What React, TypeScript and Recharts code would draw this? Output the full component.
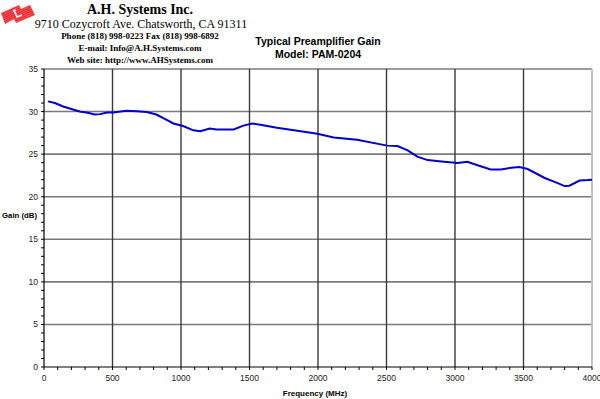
import React from "react";
import { LineChart, Line, XAxis, YAxis, ReferenceLine } from "recharts";

// Measured preamplifier gain across frequency
const freqMHz = [
  30, 80, 140, 200, 260, 320, 370, 410, 460, 505, 600, 680, 750, 820, 885, 945,
  1015, 1090, 1140, 1210, 1260, 1385, 1455, 1520, 1600, 1700, 1850, 1995, 2115,
  2285, 2505, 2580, 2655, 2725, 2800, 2920, 3020, 3090, 3165, 3260, 3335, 3410,
  3470, 3530, 3655, 3750, 3800, 3835, 3910, 3970, 4000,
];
const gainDb = [
  31.2, 31.0, 30.6, 30.3, 30.0, 29.85, 29.65, 29.7, 29.9, 29.9, 30.1, 30.05,
  29.95, 29.65, 29.1, 28.6, 28.3, 27.8, 27.7, 28.0, 27.9, 27.9, 28.35, 28.6,
  28.4, 28.1, 27.75, 27.4, 26.95, 26.7, 26.0, 25.95, 25.45, 24.7, 24.3, 24.1,
  23.95, 24.1, 23.7, 23.2, 23.2, 23.4, 23.5, 23.25, 22.2, 21.6, 21.25, 21.3,
  21.9, 21.95, 22.0,
];

const xMajorTicks = [0, 500, 1000, 1500, 2000, 2500, 3000, 3500, 4000];
const xMinorTicks = Array.from({ length: 41 }, (_, i) => i * 100);
const yMajorTicks = [0, 5, 10, 15, 20, 25, 30, 35];
const yMinorTicks = Array.from({ length: 36 }, (_, i) => i);

const titleLines = ["Typical Preamplifier Gain", "Model: PAM-0204"];
const companyName = "A.H. Systems Inc.";
const companyAddress = "9710 Cozycroft Ave. Chatsworth, CA 91311";
const companyContacts = [
  "Phone (818) 998-0223 Fax (818) 998-6892",
  "E-mail: Info@A.H.Systems.com",
  "Web site: http://www.AHSystems.com",
];

const data = freqMHz.map((f, i) => ({ f, g: gainDb[i] }));

const SANS = "'Liberation Sans', Arial, sans-serif";
const SERIF = "'Liberation Serif', 'Times New Roman', serif";

const XTick = (props: any) => {
  const { x, y, payload } = props;
  if (payload.value % 500 !== 0) return null;
  return (
    <text x={x} y={y + 9} textAnchor="middle" fontSize={8.5} fontFamily={SANS} fill="#222">
      {payload.value}
    </text>
  );
};

const YTick = (props: any) => {
  const { x, y, payload } = props;
  if (payload.value % 5 !== 0) return null;
  return (
    <text x={x} y={y + 3} textAnchor="end" fontSize={8.5} fontFamily={SANS} fill="#222">
      {payload.value}
    </text>
  );
};

const Logo = () => (
  <g>
    <defs>
      <pattern id="stripes" width="2" height="2" patternUnits="userSpaceOnUse" patternTransform="rotate(-25)">
        <rect width="2" height="2" fill="#e8232b" />
        <rect width="2" height="0.6" fill="#f77" />
      </pattern>
    </defs>
    <polygon
      points="1,13 19,5 21,9 30,5 35,15 16,23 14,19 5,24"
      fill="url(#stripes)"
    />
    <path d="M14,10 L17,17 L22,15 M13,11 L16,10" stroke="#fff" strokeWidth={1.6} fill="none" />
  </g>
);

export default function App() {
  return (
    <div style={{ position: "absolute", left: 0, top: 0, width: 600, height: 399, background: "#fff" }}>
      <LineChart
        width={600}
        height={399}
        data={data}
        margin={{ top: 69, right: 8, bottom: 12, left: 0 }}
      >
        {yMajorTicks.slice(1).map((v) => (
          <ReferenceLine key={`h${v}`} y={v} stroke="#7a7a7a" strokeWidth={1.6} />
        ))}
        {xMajorTicks.slice(1, -1).map((v) => (
          <ReferenceLine key={`v${v}`} x={v} stroke="#3a3a3a" strokeWidth={1.4} />
        ))}
        <ReferenceLine x={4000} stroke="#c4c4c4" strokeWidth={2} />
        <XAxis
          dataKey="f"
          type="number"
          domain={[0, 4000]}
          ticks={xMinorTicks}
          interval={0}
          tick={<XTick />}
          tickSize={3}
          tickLine={{ stroke: "#000" }}
          axisLine={{ stroke: "#000", strokeWidth: 1.2 }}
          height={20}
        />
        <YAxis
          type="number"
          domain={[0, 35]}
          ticks={yMinorTicks}
          interval={0}
          tick={<YTick />}
          tickSize={3}
          tickMargin={3}
          tickLine={{ stroke: "#000" }}
          axisLine={{ stroke: "#000", strokeWidth: 1.2 }}
          width={44}
        />
        <Line
          type="linear"
          dataKey="g"
          stroke="#0000cc"
          strokeWidth={2}
          dot={false}
          isAnimationActive={false}
        />
      </LineChart>
      <svg
        width={600}
        height={399}
        style={{ position: "absolute", left: 0, top: 0, pointerEvents: "none" }}
      >
        <Logo />
        <text x={140} y={14} textAnchor="middle" fontFamily={SERIF} fontWeight="bold" fontSize={14}>
          {companyName}
        </text>
        <text x={141} y={27.5} textAnchor="middle" fontFamily={SERIF} fontSize={12}>
          {companyAddress}
        </text>
        {companyContacts.map((t, i) => (
          <text key={t} x={140} y={39 + i * 12} textAnchor="middle" fontFamily={SERIF} fontWeight="bold" fontSize={9}>
            {t}
          </text>
        ))}
        {titleLines.map((t, i) => (
          <text key={t} x={318} y={45 + i * 13} textAnchor="middle" fontFamily={SANS} fontWeight="bold" fontSize={10.5}>
            {t}
          </text>
        ))}
        <text x={2} y={218} fontFamily={SANS} fontWeight="bold" fontSize={7.8}>
          Gain (dB)
        </text>
        <text x={315} y={396} textAnchor="middle" fontFamily={SANS} fontWeight="bold" fontSize={8}>
          Frequency (MHz)
        </text>
      </svg>
    </div>
  );
}
